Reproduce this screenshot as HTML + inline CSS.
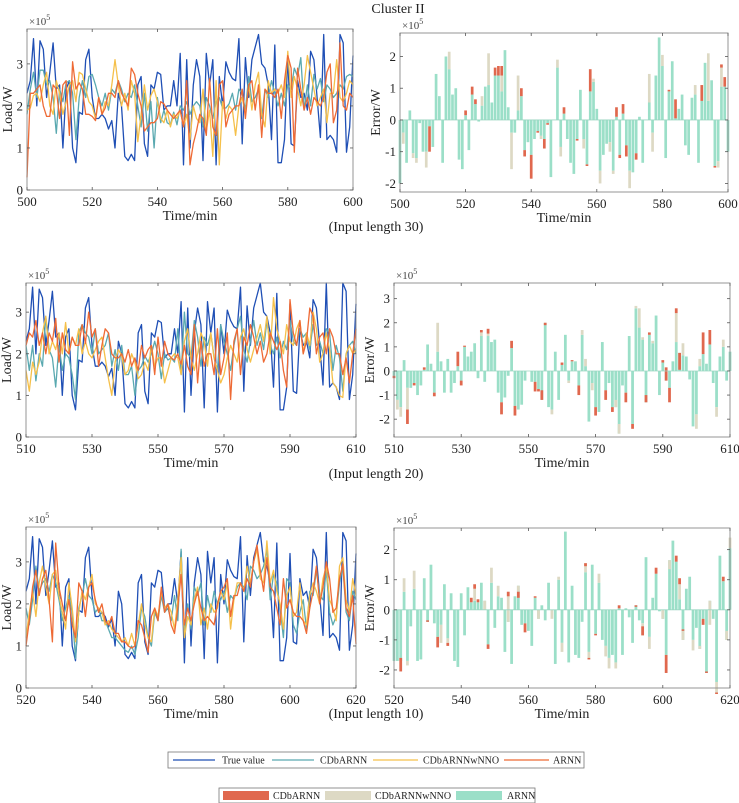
<!DOCTYPE html>
<html><head><meta charset="utf-8"><style>
html,body{margin:0;padding:0;background:#fff}
svg{display:block;font-family:"Liberation Serif",serif}
</style></head><body>
<svg id="c" width="739" height="803" viewBox="0 0 739 803" xmlns="http://www.w3.org/2000/svg">
<text x="398" y="13" font-size="14" text-anchor="middle" fill="#222">Cluster II</text>
<text x="376" y="231" font-size="14" text-anchor="middle" fill="#222">(Input length 30)</text>
<text x="376" y="478" font-size="14" text-anchor="middle" fill="#222">(Input length 20)</text>
<text x="376" y="718" font-size="14" text-anchor="middle" fill="#222">(Input length 10)</text>
<g>
<rect x="168" y="752" width="416" height="16" fill="#fff" stroke="#777" stroke-width="0.8"/>
<line x1="173" y1="760" x2="215" y2="760" stroke="#1f4fb5" stroke-width="1.3"/><text x="222" y="763.5" font-size="10" fill="#222">True value</text>
<line x1="272" y1="760" x2="314" y2="760" stroke="#5aa9b0" stroke-width="1.3"/><text x="320" y="763.5" font-size="10" fill="#222">CDbARNN</text>
<line x1="373" y1="760" x2="418" y2="760" stroke="#f5c04a" stroke-width="1.3"/><text x="423" y="763.5" font-size="10" fill="#222">CDbARNNwNNO</text>
<line x1="504" y1="760" x2="549" y2="760" stroke="#ee6a35" stroke-width="1.3"/><text x="553" y="763.5" font-size="10" fill="#222">ARNN</text>
</g>
<g>
<rect x="219" y="788" width="316" height="15" fill="#fff" stroke="#777" stroke-width="0.8"/>
<rect x="223" y="791" width="46" height="9" fill="#e0684e"/><text x="273" y="799" font-size="10" fill="#222">CDbARNN</text>
<rect x="325" y="791" width="46" height="9" fill="#ddd9c4"/><text x="375" y="799" font-size="10" fill="#222">CDbARNNwNNO</text>
<rect x="456" y="791" width="46" height="9" fill="#9bdfc8"/><text x="507" y="799" font-size="10" fill="#222">ARNN</text>
</g>
</svg>
<script>
const trueVals=[2.3,2.6,3.6,2.0,3.55,3.35,2.2,2.8,3.5,2.4,2.5,1.0,2.4,2.6,1.0,0.65,1.85,1.8,3.1,3.35,2.2,1.7,1.7,1.8,1.7,1.45,1.65,1.0,2.3,2.0,0.8,0.7,0.85,0.7,2.5,2.7,1.1,0.8,2.5,2.4,2.8,2.75,1.9,2.0,2.0,2.6,2.0,3.25,0.6,3.1,1.0,2.5,3.1,2.7,0.7,3.25,2.5,3.1,0.6,2.7,2.0,3.05,2.8,2.65,2.6,3.6,1.1,3.15,2.2,3.1,3.4,3.7,3.0,2.9,2.5,1.2,3.45,0.65,0.65,1.2,3.2,1.1,1.05,2.6,2.2,2.3,1.9,3.3,3.1,2.2,1.25,3.7,1.2,1.3,1.2,0.9,3.7,3.5,0.9,1.5,3.2];
const tealP1=[1.8,2.4,2.8,2.2,2.85,2.85,2.5,2.6,2.2,1.35,2.4,2.1,2.55,2.6,2.3,1.2,2.2,2.6,2.2,2.7,2.75,2.5,2.2,2.0,2.3,1.9,2.4,2.3,2.6,2.4,2.1,2.3,2.2,2.5,2.0,1.5,2.3,1.4,2.1,1.0,2.2,1.6,1.9,1.6,1.55,1.85,1.55,2.0,1.9,2.1,1.8,2.0,2.1,2.0,1.5,2.2,2.0,1.7,2.1,2.2,1.95,1.95,2.05,2.3,1.9,2.4,2.3,1.9,2.7,2.1,2.2,2.4,1.7,2.4,2.2,2.6,2.3,2.0,2.3,2.0,2.5,2.4,2.9,2.7,3.15,1.9,2.5,2.0,2.75,2.4,2.65,2.1,2.5,2.4,2.2,2.3,2.5,2.4,2.7,2.75,2.7];
const yellowP1=[1.9,1.95,2.25,2.3,2.1,2.5,2.8,2.0,1.8,2.6,2.3,1.8,2.1,2.5,2.6,2.1,2.8,2.75,2.4,2.1,2.0,1.7,2.2,1.8,2.1,2.0,2.5,3.1,2.5,2.0,2.3,1.9,2.6,2.3,1.15,1.8,2.5,1.9,2.25,2.4,2.1,1.7,1.6,1.9,1.5,1.8,1.7,1.9,1.5,1.8,1.2,2.0,1.7,1.6,2.4,1.4,1.9,0.8,2.6,0.6,2.1,1.7,2.0,1.9,1.3,2.0,2.2,1.8,2.5,1.9,2.5,2.8,1.8,1.5,2.6,2.3,2.4,2.3,2.5,2.2,3.3,2.2,2.7,2.4,2.0,2.5,3.2,2.8,2.4,2.0,2.2,2.4,1.6,2.3,2.3,3.1,2.2,2.1,2.3,2.6,2.5];
const orangeP1=[0.3,2.3,2.3,2.4,2.5,2.0,1.75,1.75,2.5,2.4,1.7,2.5,2.6,1.3,3.05,2.4,2.55,2.4,1.8,1.8,1.75,1.65,2.2,1.8,1.95,2.3,2.3,2.2,2.6,2.3,2.15,2.0,2.9,2.75,2.3,2.0,1.4,1.5,1.6,1.6,1.7,2.1,2.05,1.9,1.8,1.7,1.8,1.9,1.5,2.6,0.6,1.1,1.4,1.8,1.7,1.3,2.65,1.5,1.3,2.5,2.6,1.5,1.8,1.9,2.0,2.0,2.4,1.7,2.5,2.6,1.9,2.5,1.25,2.4,2.3,2.3,2.2,2.4,1.7,2.6,3.2,2.9,0.9,2.9,2.4,1.9,2.2,1.8,2.2,2.1,2.0,2.2,2.8,3.0,1.6,1.9,3.5,2.0,1.9,2.3,2.2];
const tealP2=[2.2,1.6,2.2,1.35,2.0,1.7,2.9,2.1,1.9,1.2,2.2,1.6,2.0,1.9,1.5,0.9,2.5,2.7,2.5,2.4,2.0,2.6,2.0,2.1,2.2,2.5,1.7,2.1,1.6,2.2,1.5,1.5,1.7,1.0,1.6,1.7,1.95,1.8,2.0,2.3,2.0,1.4,2.0,1.85,1.9,1.8,2.6,1.5,3.0,2.0,1.9,2.8,2.4,1.7,2.4,2.2,2.5,1.9,1.6,2.7,2.3,2.0,1.6,2.2,2.6,2.9,2.1,1.8,2.3,2.8,2.2,2.5,2.1,2.8,2.2,2.0,2.4,1.9,2.3,2.1,2.8,2.3,2.2,2.6,2.4,2.5,2.1,2.7,2.2,2.3,2.0,2.6,2.5,1.6,2.2,1.9,1.1,2.0,2.2,2.3,2.0];
const yellowP2=[1.6,1.1,1.8,1.5,1.8,2.5,2.9,2.0,2.3,2.1,2.5,2.0,2.75,2.0,2.4,2.2,2.6,2.0,2.3,2.0,1.9,2.1,2.3,2.4,1.9,1.4,1.0,1.8,2.1,1.95,1.5,1.6,2.0,1.8,1.4,1.5,1.8,1.6,2.2,1.7,1.9,1.9,1.3,1.6,1.9,2.0,1.9,1.5,2.3,2.6,1.9,1.6,2.0,2.5,2.3,1.7,2.5,1.9,1.6,1.3,1.5,1.9,2.2,2.0,1.8,2.4,2.6,2.1,1.8,2.1,2.4,2.7,2.3,2.9,2.0,3.35,2.6,2.3,2.0,2.7,2.3,2.2,2.6,2.8,2.0,2.5,2.2,3.0,2.6,1.8,2.0,2.5,2.1,1.3,1.2,1.0,0.95,2.0,2.2,2.0,2.1];
const orangeP2=[2.2,2.5,2.4,2.8,2.2,2.5,2.0,2.5,2.3,2.85,1.8,2.5,2.1,2.0,2.4,2.2,2.2,2.7,2.25,3.0,2.4,2.6,1.7,2.2,2.6,2.5,2.0,1.9,1.9,2.0,1.8,2.1,1.7,1.9,1.6,2.2,1.9,2.1,2.2,1.5,2.4,1.7,2.3,2.0,1.9,1.85,2.0,1.75,2.2,1.7,1.5,2.7,1.3,2.3,1.7,2.0,2.0,1.5,2.6,1.5,1.9,2.5,0.9,2.3,2.6,1.5,2.4,2.2,2.7,2.4,2.0,2.3,1.8,2.0,2.5,2.3,2.1,2.3,1.6,1.2,3.3,2.5,2.2,2.8,2.0,2.3,3.1,2.9,2.0,2.4,2.5,2.0,2.6,2.4,2.0,2.0,1.5,1.9,1.3,2.0,2.6];
const tealP3=[1.9,1.5,2.1,2.9,2.3,2.5,2.6,2.3,2.7,2.5,2.1,1.6,1.9,2.2,1.8,0.7,1.9,2.2,2.6,2.2,2.1,1.8,1.9,1.6,1.6,1.4,1.2,1.2,1.1,1.0,0.9,0.85,1.0,0.8,1.2,1.9,1.7,1.2,1.0,1.8,1.6,2.2,1.8,1.9,1.6,2.2,1.6,3.3,1.3,2.0,1.4,2.4,2.2,2.5,1.5,2.2,1.8,2.3,2.0,2.1,2.3,1.8,2.2,2.1,2.4,2.5,2.4,2.1,2.9,2.8,2.6,2.7,2.9,3.3,2.1,2.7,2.5,1.9,1.2,2.6,2.5,1.5,1.3,1.8,2.1,1.4,2.3,2.2,2.8,2.2,2.1,2.8,1.8,1.5,1.7,2.5,2.9,1.8,1.6,2.3,2.1];
const yellowP3=[1.2,1.8,2.3,1.7,2.5,2.9,2.4,2.0,2.7,2.8,2.2,1.8,1.4,2.5,1.9,1.1,1.8,2.3,2.1,2.4,2.7,2.0,1.9,1.8,1.5,1.6,1.4,1.3,1.2,1.1,1.2,1.0,1.3,1.0,1.5,2.0,1.5,1.2,1.1,1.9,1.7,2.3,1.9,2.0,1.8,1.4,2.1,3.1,1.2,1.7,1.5,2.1,2.4,1.5,1.9,1.4,2.0,1.8,1.9,2.3,2.1,2.5,1.4,2.1,2.5,2.5,2.3,2.9,2.5,3.0,3.3,2.6,2.5,3.5,2.5,2.8,2.3,2.0,1.4,2.2,2.4,1.7,1.8,2.5,1.6,1.5,2.2,2.5,2.3,2.0,2.6,2.9,2.1,1.9,1.6,2.9,3.1,2.1,1.8,2.6,2.2];
const orangeP3=[1.0,1.6,2.4,2.8,2.2,2.6,2.8,2.1,1.1,3.45,2.4,2.0,1.6,2.1,1.5,1.2,2.5,2.3,1.7,2.4,2.5,2.1,1.8,2.0,1.6,1.5,1.7,1.3,1.3,1.1,1.1,1.0,0.95,1.0,1.6,1.5,1.2,0.85,1.7,1.9,1.6,2.4,1.8,2.0,1.5,1.3,1.9,2.7,1.5,1.9,1.6,2.0,2.3,1.9,1.6,1.7,1.6,1.5,2.0,2.3,2.4,2.6,1.7,2.2,2.2,2.5,2.3,2.6,2.4,3.0,3.4,2.8,2.3,3.1,2.4,2.3,1.9,1.5,2.6,1.9,2.1,1.8,1.7,1.7,1.6,1.3,1.9,2.3,2.9,2.0,2.4,3.0,2.6,1.8,1.9,2.6,2.95,1.9,1.7,2.2,1.05];
const arnnErr1=[-2.0,-0.4,-1.35,0.3,-1.05,-1.2,-0.1,-1.0,-1.0,-0.2,-0.85,1.45,0.75,-1.35,2.0,1.6,0.8,1.0,-1.25,-1.55,0.15,-0.95,0.8,0.5,-0.05,0.45,1.05,1.1,0.55,1.4,1.4,0.9,2.2,0.4,-0.4,-0.4,0.3,0.75,-0.95,-0.7,-1.1,-0.6,-0.35,-0.5,-0.6,-0.1,-1.8,0.0,1.65,-0.85,0.2,-0.6,-1.35,-1.7,-0.6,0.95,-0.6,-1.4,0.9,1.2,0.35,-1.6,-1.1,-0.75,-0.7,-1.6,0.1,-1.1,0.2,-0.8,-1.6,-1.65,-1.05,0.1,-1.35,0.0,0.55,-0.4,1.4,2.6,1.7,-1.2,0.9,1.85,0.05,0.35,0.8,-0.8,-1.1,0.7,0.8,-1.35,0.6,1.8,0.6,1.25,-1.45,-1.3,1.05,1.05,-1.0];
const wnnoIdx1=[1,4,5,8,15,25,27,31,34,36,43,48,49,56,59,61,64,65,70,76,77,80,90,94,97,98];
const wnnoVal1=[-0.35,-0.15,-0.15,-0.5,0.55,0.3,1.0,0.5,-1.15,1.1,-0.1,0.25,-0.3,-0.3,0.1,-0.4,-0.3,-0.1,-0.55,0.9,-0.6,0.35,0.3,1.5,-0.2,0.6];
const cdbIdx1=[9,20,22,23,29,30,31,37,38,40,42,44,45,50,54,57,58,66,67,68,69,72,82,84,92,96,98,99];
const cdbVal1=[-0.8,0.15,0.25,0.15,0.25,0.3,0.3,0.25,-0.2,-0.75,-0.05,-0.3,-0.05,0.2,-0.05,-0.05,0.7,0.3,-0.1,0.3,-0.35,-0.2,0.05,0.6,0.5,-0.05,0.1,0.3];
const arnnErr2=[-0.2,-1.2,-1.5,0.45,-0.7,-0.7,-0.5,-1.0,-0.6,0.05,1.1,0.3,-0.9,0.8,0.4,-0.9,0.5,-0.9,-0.5,0.2,-0.4,1.0,0.6,0.8,1.15,-0.3,1.45,-0.45,1.45,1.2,1.3,-0.9,-1.3,-1.1,-0.2,0.95,-1.45,-1.6,-1.4,-0.4,0.0,-0.45,-0.45,-0.75,-1.2,2.0,-1.5,-1.6,0.8,-1.2,0.25,1.5,-0.4,0.4,0.4,-0.6,1.5,0.2,-2.1,-0.5,-1.5,-1.7,1.2,-0.8,-0.5,-1.5,-1.5,-2.6,-0.6,-0.9,1.45,-2.2,2.6,1.8,1.3,-1.3,1.5,1.15,2.3,-1.0,0.35,-0.4,-0.7,0.4,1.2,0.75,0.65,0.6,-0.35,-2.3,-1.8,0.2,0.7,0.3,1.1,-0.5,-1.5,0.6,1.0,-0.4,0.8];
const wnnoIdx2=[1,2,4,13,26,28,47,52,56,57,59,66,67,72,73,74,77,84,86,90,91,96,98];
const wnnoVal2=[-0.4,-0.4,-0.9,1.2,0.15,0.1,-0.2,-0.1,0.2,0.3,-0.3,0.3,0.4,0.1,0.8,0.1,0.1,1.2,0.5,-0.6,0.3,-0.4,0.3];
const cdbIdx2=[0,4,6,9,12,19,20,21,26,28,32,35,36,42,43,44,45,50,53,55,60,63,65,69,71,75,76,80,81,82,84,85,92,94];
const cdbVal2=[-0.1,-0.6,-0.1,0.1,-0.15,0.6,-0.2,0.05,0.1,0.2,-0.5,0.3,-0.4,-0.4,-0.1,0.4,-0.1,0.1,0.05,-0.4,-0.35,-0.4,-0.2,-0.4,-0.2,0.3,0.1,0.1,0.55,-0.6,0.2,-0.7,0.9,0.6];
const arnnErr3=[-1.7,-1.7,-1.7,0.6,-1.7,-0.55,0.7,-1.7,-1.65,1.05,-0.4,1.5,-0.45,-0.9,-0.5,0.85,-0.95,0.55,-1.7,-1.9,0.55,-0.85,0.75,0.25,0.3,0.25,0.9,0.3,-1.15,0.9,-0.6,0.45,0.4,-1.4,-0.4,-1.8,0.45,0.8,-0.5,-0.45,-0.7,-1.2,0.4,-0.3,0.15,-0.35,0.9,0.0,-1.8,1.0,-1.1,2.6,-1.75,0.8,-1.5,-1.6,-0.4,1.25,-1.4,1.5,-0.8,0.9,-1.0,-1.2,-1.6,-1.5,-1.75,0.05,-1.5,0.05,-0.25,-1.1,0.15,-0.35,-0.45,1.75,-0.9,0.4,1.2,-0.05,-0.3,-1.5,1.65,2.3,1.6,0.35,-1.0,0.7,1.1,-1.0,-0.6,-1.3,-0.3,-2.1,0.3,-0.3,-2.4,1.8,0.95,-1.0,2.05];
const wnnoIdx3=[2,3,4,6,14,16,24,27,29,31,34,37,43,47,49,50,57,58,61,63,64,66,74,76,80,82,85,86,89,91,94,96,99,100];
const wnnoVal3=[0.1,0.45,-0.15,0.6,-0.6,-0.15,0.4,-0.3,0.5,0.35,1.0,-0.2,0.3,-0.3,0.1,-0.3,0.3,-0.25,0.3,-0.35,-0.35,-0.2,-0.4,-0.4,0.3,-0.3,0.5,0.3,-0.35,0.1,-0.8,-0.4,0.3,0.35];
const cdbIdx3=[2,10,13,16,23,24,25,28,34,37,39,42,57,58,60,67,72,74,78,81,84,85,86,92,93,96,98];
const cdbVal3=[-0.45,0.05,-0.35,-0.1,0.15,0.15,0.1,-0.15,-0.15,-0.2,-0.3,0.05,-0.1,0.05,-0.05,0.1,-0.05,0.3,0.2,-0.6,0.2,0.2,0.05,-0.2,0.05,0.05,0.15];
const loadTicks=[0,1,2,3];
const errTicks1=[-2,-1,0,1,2];
const errTicks2=[-2,-1,0,1,2,3];
const errTicks3=[-2,-1,0,1,2];
const xTicks1=[500,520,540,560,580,600];
const xTicks2=[510,530,550,570,590,610];
const xTicks3=[520,540,560,580,600,620];

const NS='http://www.w3.org/2000/svg';
const svg=document.getElementById('c');
function mk(tag,attrs,parent){const e=document.createElementNS(NS,tag);for(const k in attrs)e.setAttribute(k,attrs[k]);(parent||svg).appendChild(e);return e;}
function axes(p,name){
  const g=mk('g',{});
  
  
  p.g=g;
  p.sx=v=>p.x0+(v-p.xmin)/(p.xmax-p.xmin)*(p.x1-p.x0);
  p.sy=v=>p.y1-(v-p.ymin)/(p.ymax-p.ymin)*(p.y1-p.y0);
  mk('rect',{x:p.x0,y:p.y0,width:p.x1-p.x0,height:p.y1-p.y0,fill:'#fff'},g);
  return g;
}
function frame(p,ylabel,yticks,xticks){
  const g=p.g;
  mk('rect',{x:p.x0,y:p.y0,width:p.x1-p.x0,height:p.y1-p.y0,fill:'none',stroke:'#8a8a8a','stroke-width':0.9},g);
  yticks.forEach(t=>{const y=p.sy(t);
    mk('line',{x1:p.x0,y1:y,x2:p.x0+3,y2:y,stroke:'#555','stroke-width':0.8},g);
    mk('line',{x1:p.x1,y1:y,x2:p.x1-3,y2:y,stroke:'#555','stroke-width':0.8},g);
    const tx=mk('text',{x:p.x0-4,y:y+4.5,'font-size':13,'text-anchor':'end',fill:'#222'},g);tx.textContent=String(t);
    
    });
  xticks.forEach(t=>{const x=p.sx(t);
    mk('line',{x1:x,y1:p.y1,x2:x,y2:p.y1-3,stroke:'#555','stroke-width':0.8},g);
    mk('line',{x1:x,y1:p.y0,x2:x,y2:p.y0+3,stroke:'#555','stroke-width':0.8},g);
    const tx=mk('text',{x:x,y:p.y1+16,'font-size':13,'text-anchor':'middle',fill:'#222'},g);tx.textContent=String(t);
    
    });
  const xl=mk('text',{x:(p.x0+p.x1)/2,y:p.y1+30,'font-size':14,'text-anchor':'middle',fill:'#222'},g);xl.textContent='Time/min';
  
  
  const yl=mk('text',{x:0,y:0,'font-size':14,'text-anchor':'middle',fill:'#222',transform:`translate(${p.x0-(p.kind==='err'?20:15)},${(p.y0+p.y1)/2}) rotate(-90)`},g);yl.textContent=ylabel;
  
  
  const ex=mk('text',{x:p.x0+2,y:p.y0-4,'font-size':11,fill:'#444'},g);
  
  
  ex.appendChild(document.createTextNode('\u00d710'));
  const sup=mk('tspan',{'font-size':8,dy:-5},ex);sup.textContent='5';
}
function lines(p,series,colors,names){
  series.forEach((s,k)=>{
    const pts=s.map((v,i)=>p.sx(p.xmin+i).toFixed(1)+','+p.sy(v).toFixed(1)).join(' ');
    const pl=mk('polyline',{points:pts,fill:'none',stroke:colors[k],'stroke-width':1.3,'stroke-linejoin':'round'},p.g);
    
    
  });
}
function bars(p,g0,bIdx,bVal,rIdx,rVal){
  const w=(p.x1-p.x0)/(p.xmax-p.xmin)*0.82;
  const b=new Array(g0.length).fill(0), r=new Array(g0.length).fill(0);
  bIdx.forEach((i,k)=>b[i]=bVal[k]); rIdx.forEach((i,k)=>r[i]=rVal[k]);
  g0.forEach((v,i)=>{
    const x=p.sx(p.xmin+i)-w/2;
    const segs=[[0,v,'#9bdfc8','bar-arnn'],[v,v+b[i],'#ddd9c4','bar-cdbarnnwnno'],[v+b[i],v+b[i]+r[i],'#e0684e','bar-cdbarnn']];
    segs.forEach(sg=>{ if(Math.abs(sg[1]-sg[0])<1e-6)return;
      const ya=p.sy(sg[0]),yb=p.sy(sg[1]);
      const rc=mk('rect',{x:x.toFixed(2),y:Math.min(ya,yb).toFixed(2),width:w.toFixed(2),height:Math.abs(yb-ya).toFixed(2),fill:sg[2]},p.g);
      
      
    });
  });
  const zl=mk('line',{x1:p.x0,y1:p.sy(0),x2:p.x1,y2:p.sy(0),stroke:'#9bd6c2','stroke-width':0.8},p.g);
  
  
}
const C=['#1f4fb5','#5aa9b0','#f5c04a','#ee6a35'];
const N=['true-value-line','cdbarnn-line','cdbarnnwnno-line','arnn-line'];
const panels=[
 {L:{x0:27,x1:353,y0:29,y1:190,xmin:500,xmax:600,ymin:0,ymax:3.83},R:{x0:400,x1:728,y0:33,y1:192,xmin:500,xmax:600,ymin:-2.27,ymax:2.74},
  s:[trueVals,tealP1,yellowP1,orangeP1],e:[arnnErr1,wnnoIdx1,wnnoVal1,cdbIdx1,cdbVal1],xt:xTicks1,et:errTicks1},
 {L:{x0:26,x1:356,y0:283,y1:437,xmin:510,xmax:610,ymin:0,ymax:3.7},R:{x0:394,x1:730,y0:283,y1:437,xmin:510,xmax:610,ymin:-2.74,ymax:3.65},
  s:[trueVals,tealP2,yellowP2,orangeP2],e:[arnnErr2,wnnoIdx2,wnnoVal2,cdbIdx2,cdbVal2],xt:xTicks2,et:errTicks2},
 {L:{x0:26,x1:356,y0:527,y1:688,xmin:520,xmax:620,ymin:0,ymax:3.83},R:{x0:394,x1:730,y0:528,y1:688,xmin:520,xmax:620,ymin:-2.6,ymax:2.72},
  s:[trueVals,tealP3,yellowP3,orangeP3],e:[arnnErr3,wnnoIdx3,wnnoVal3,cdbIdx3,cdbVal3],xt:xTicks3,et:errTicks3}
];
panels.forEach((P,k)=>{
  P.L.kind='load'; P.R.kind='err';
  axes(P.L,'load-panel-'+(k+1));
  lines(P.L,P.s,C,N);
  frame(P.L,'Load/W',loadTicks,P.xt);
  axes(P.R,'error-panel-'+(k+1));
  bars(P.R,P.e[0],P.e[1],P.e[2],P.e[3],P.e[4]);
  frame(P.R,'Error/W',P.et,P.xt);
});
</script>
</body></html>
